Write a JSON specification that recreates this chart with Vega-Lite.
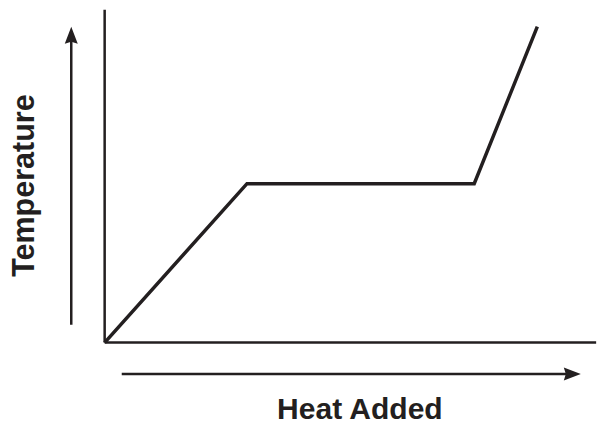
{
  "$schema": "https://vega.github.io/schema/vega-lite/v6.json",
  "width": 598,
  "height": 425,
  "padding": 0,
  "autosize": {"type": "fit", "contains": "padding"},
  "config": {"view": {"stroke": null}},
  "background": "white",
  "layer": [
    {
      "data": {"values": [
        {"x": 0, "y": 0, "x2": 103.6, "y2": 0},
        {"x": 0, "y": 0, "x2": 0, "y2": 104.7}
      ]},
      "mark": {"type": "rule", "stroke": "#231f20", "strokeWidth": 2.5},
      "encoding": {
        "x": {"field": "x", "type": "quantitative", "scale": {"domain": [-22.06, 103.57], "nice": false, "zero": false}, "axis": null},
        "y": {"field": "y", "type": "quantitative", "scale": {"domain": [-25, 107.8], "nice": false, "zero": false}, "axis": null},
        "x2": {"field": "x2"},
        "y2": {"field": "y2"}
      }
    },
    {
      "data": {"values": [
        {"heat": 0, "temp": 0},
        {"heat": 30.0, "temp": 50},
        {"heat": 77.9, "temp": 50},
        {"heat": 91.2, "temp": 99.4}
      ]},
      "mark": {"type": "line", "stroke": "#231f20", "strokeWidth": 3.5, "strokeJoin": "miter", "strokeCap": "butt"},
      "encoding": {
        "x": {"field": "heat", "type": "quantitative"},
        "y": {"field": "temp", "type": "quantitative"}
      }
    },
    {
      "data": {"values": [
        {"x": -7.04, "y": 5.6, "x2": -7.04, "y2": 96.5},
        {"x": 3.6, "y": -9.9, "x2": 98.3, "y2": -9.9}
      ]},
      "mark": {"type": "rule", "stroke": "#231f20", "strokeWidth": 2.5},
      "encoding": {
        "x": {"field": "x", "type": "quantitative"},
        "y": {"field": "y", "type": "quantitative"},
        "x2": {"field": "x2"},
        "y2": {"field": "y2"}
      }
    },
    {
      "data": {"values": [{"x": -7.04, "y": 96.25}]},
      "mark": {"type": "point", "shape": "M0,-1L0.65,0.7L0,0.5L-0.65,0.7Z", "size": 400, "filled": true, "fill": "#231f20", "stroke": null, "opacity": 1},
      "encoding": {
        "x": {"field": "x", "type": "quantitative"},
        "y": {"field": "y", "type": "quantitative"}
      }
    },
    {
      "data": {"values": [{"x": 98.26, "y": -9.9}]},
      "mark": {"type": "point", "shape": "M1,0L-0.7,0.65L-0.5,0L-0.7,-0.65Z", "size": 400, "filled": true, "fill": "#231f20", "stroke": null, "opacity": 1},
      "encoding": {
        "x": {"field": "x", "type": "quantitative"},
        "y": {"field": "y", "type": "quantitative"}
      }
    },
    {
      "data": {"values": [{"x": -14.8, "y": 49.4, "label": "Temperature"}]},
      "mark": {"type": "text", "angle": 270, "align": "center", "baseline": "alphabetic", "font": "Liberation Sans", "fontWeight": "bold", "fontSize": 30.5, "color": "#231f20"},
      "encoding": {
        "x": {"field": "x", "type": "quantitative"},
        "y": {"field": "y", "type": "quantitative"},
        "text": {"field": "label"}
      }
    },
    {
      "data": {"values": [{"x": 53.8, "y": -24.06, "label": "Heat Added"}]},
      "mark": {"type": "text", "align": "center", "baseline": "alphabetic", "font": "Liberation Sans", "fontWeight": "bold", "fontSize": 30, "color": "#231f20"},
      "encoding": {
        "x": {"field": "x", "type": "quantitative"},
        "y": {"field": "y", "type": "quantitative"},
        "text": {"field": "label"}
      }
    }
  ]
}
